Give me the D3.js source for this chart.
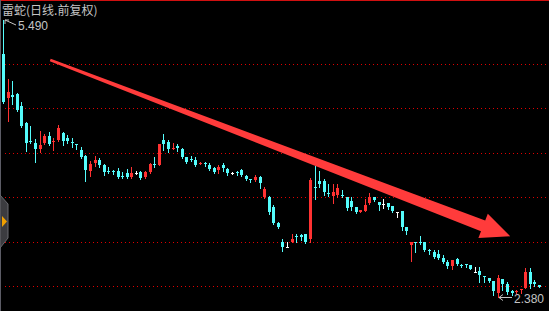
<!DOCTYPE html>
<html>
<head>
<meta charset="utf-8">
<script src="https://cdn.jsdelivr.net/npm/d3@7"></script>
<style>
  html, body { margin: 0; padding: 0; background: #000; }
  svg { display: block; }
</style>
</head>
<body>
<svg id="chart"></svg>
<script>
/** daily candles (oldest first) */
var opens = [
  5.11, 4.62, 4.65, 4.66, 4.53, 4.34, 4.13, 4.11, 4.04, 4.11,
  4.19, 4.12, 4.14, 4.22, 4.17, 4.12, 4.10, 4.03, 3.96, 3.80,
  3.89, 3.92, 3.86, 3.80, 3.795, 3.80, 3.74, 3.77, 3.73, 3.77,
  3.78, 3.73, 3.78, 3.87, 3.86, 4.14, 4.12, 4.04, 4.08, 4.04,
  3.95, 3.925, 3.92, 3.875, 3.885, 3.86, 3.83, 3.81, 3.86, 3.82,
  3.77, 3.785, 3.81, 3.74, 3.70, 3.69, 3.73, 3.50, 3.50, 3.39,
  3.21, 3.00, 2.94, 3.00, 3.06, 3.075, 3.08, 3.03, 3.62, 3.68,
  3.68, 3.55, 3.51, 3.525, 3.53, 3.50, 3.46, 3.39, 3.335, 3.345,
  3.435, 3.50, 3.45, 3.42, 3.435, 3.40, 3.335, 3.345, 3.165, 2.96,
  2.995, 2.99, 3.00, 2.90, 2.88, 2.86, 2.815, 2.77, 2.725, 2.80,
  2.74, 2.75, 2.74, 2.66, 2.67, 2.61, 2.59, 2.555, 2.42, 2.58,
  2.52, 2.445, 2.43, 2.46, 2.48, 2.66, 2.545, 2.51
];
var highs = [
  5.49, 4.83, 4.81, 4.67, 4.57, 4.35, 4.30, 4.16, 4.25, 4.21,
  4.23, 4.17, 4.31, 4.23, 4.20, 4.17, 4.10, 4.07, 3.97, 3.91,
  3.96, 3.94, 3.87, 3.84, 3.81, 3.83, 3.78, 3.82, 3.84, 3.79,
  3.79, 3.79, 3.88, 3.95, 4.10, 4.21, 4.14, 4.11, 4.10, 4.05,
  3.95, 3.96, 3.95, 3.90, 3.90, 3.89, 3.84, 3.86, 3.88, 3.83,
  3.78, 3.80, 3.82, 3.75, 3.71, 3.75, 3.74, 3.61, 3.51, 3.41,
  3.22, 3.03, 3.00, 3.09, 3.09, 3.08, 3.08, 3.72, 3.85, 3.80,
  3.70, 3.65, 3.65, 3.65, 3.58, 3.50, 3.50, 3.39, 3.36, 3.48,
  3.55, 3.50, 3.45, 3.48, 3.44, 3.40, 3.335, 3.345, 3.17, 3.00,
  3.00, 3.065, 3.00, 2.92, 2.905, 2.905, 2.85, 2.79, 2.79, 2.815,
  2.75, 2.75, 2.74, 2.715, 2.715, 2.61, 2.59, 2.56, 2.625, 2.58,
  2.545, 2.45, 2.455, 2.47, 2.70, 2.70, 2.565, 2.51
];
var lows = [
  4.56, 4.36, 4.55, 4.47, 4.29, 4.02, 4.11, 3.90, 4.01, 4.10,
  4.09, 4.03, 4.13, 4.09, 4.11, 4.07, 4.04, 3.94, 3.68, 3.74,
  3.85, 3.84, 3.75, 3.77, 3.76, 3.72, 3.72, 3.72, 3.72, 3.76,
  3.71, 3.72, 3.77, 3.84, 3.86, 4.03, 4.01, 4.04, 4.02, 3.94,
  3.885, 3.91, 3.85, 3.87, 3.85, 3.81, 3.77, 3.77, 3.80, 3.75,
  3.76, 3.75, 3.74, 3.69, 3.67, 3.68, 3.60, 3.49, 3.31, 3.20,
  3.15, 2.89, 2.94, 3.00, 3.00, 3.02, 2.98, 3.00, 3.48, 3.615,
  3.525, 3.51, 3.435, 3.50, 3.50, 3.36, 3.36, 3.32, 3.33, 3.34,
  3.42, 3.455, 3.36, 3.38, 3.37, 3.33, 3.28, 3.13, 3.085, 2.78,
  2.88, 2.975, 2.89, 2.86, 2.815, 2.80, 2.76, 2.70, 2.69, 2.74,
  2.715, 2.715, 2.69, 2.66, 2.545, 2.545, 2.545, 2.40, 2.38, 2.455,
  2.41, 2.40, 2.42, 2.42, 2.48, 2.48, 2.50, 2.49
];
var closes = [
  4.57, 4.68, 4.63, 4.48, 4.30, 4.11, 4.12, 4.04, 4.09, 4.19,
  4.10, 4.13, 4.28, 4.13, 4.13, 4.11, 4.09, 3.95, 3.81, 3.87,
  3.92, 3.86, 3.78, 3.79, 3.785, 3.73, 3.73, 3.73, 3.77, 3.77,
  3.72, 3.78, 3.87, 3.86, 4.10, 4.10, 4.04, 4.055, 4.05, 3.95,
  3.90, 3.915, 3.86, 3.885, 3.875, 3.82, 3.78, 3.84, 3.83, 3.77,
  3.77, 3.775, 3.75, 3.71, 3.69, 3.73, 3.66, 3.59, 3.33, 3.21,
  3.165, 2.94, 2.94, 3.03, 3.05, 3.05, 3.00, 3.69, 3.61, 3.65,
  3.56, 3.54, 3.56, 3.60, 3.52, 3.38, 3.39, 3.33, 3.355, 3.41,
  3.50, 3.47, 3.41, 3.42, 3.39, 3.345, 3.335, 3.165, 3.12, 3.00,
  2.985, 2.98, 2.905, 2.89, 2.83, 2.815, 2.77, 2.725, 2.79, 2.75,
  2.73, 2.74, 2.69, 2.66, 2.625, 2.60, 2.555, 2.445, 2.59, 2.52,
  2.435, 2.42, 2.44, 2.47, 2.66, 2.525, 2.52, 2.49
];

var gridPrices = [5.0, 4.5, 4.0, 3.5, 3.0, 2.5];
var titleText = "雷蛇(日线.前复权)";
var highMark = { index: 0, price: 5.49, label: "5.490" };
var lowMark = { index: 108, price: 2.38, label: "2.380" };
// trend arrow drawn on the chart, in candle index / price units
var trendArrow = { from: { index: 10.2, price: 5.045 }, to: { index: 110.6, price: 3.06 } };

var svgWidth = 549, svgHeight = 311;
var UP = "#ff3232", DOWN = "#54fcfc", FLAT = "#ffffff", LABEL = "#c4c4c4";

var candles = opens.map(function(o, i) {
    return { i: i, open: o, high: highs[i], low: lows[i], close: closes[i] };
});

drawChart(candles);

function drawChart(data) {
    var svg = d3.select("#chart")
        .attr("width", svgWidth)
        .attr("height", svgHeight)
        .style("background", "#000");

    var x = d3.scaleLinear()
        .domain([0, data.length - 1])
        .range([3.5, 539.5]);

    var y = d3.scaleLinear()
        .domain([2.5, 5.0])
        .range([286, 64]);

    // frame: red top rule and grey left edge
    svg.append("line")
        .attr("x1", 0).attr("x2", svgWidth)
        .attr("y1", 0.5).attr("y2", 0.5)
        .attr("stroke", "#d01010");
    svg.append("line")
        .attr("x1", 0.5).attr("x2", 0.5)
        .attr("y1", 0).attr("y2", svgHeight)
        .attr("stroke", "#5c5c66");

    // dotted price grid
    svg.append("g").selectAll("line")
        .data(gridPrices)
        .enter().append("line")
        .attr("x1", 5).attr("x2", svgWidth)
        .attr("y1", function(d) { return Math.round(y(d)) + 0.5; })
        .attr("y2", function(d) { return Math.round(y(d)) + 0.5; })
        .attr("stroke", "#e00000")
        .attr("stroke-dasharray", "1,3");

    function colour(d) {
        if (d.close > d.open) return UP;
        if (d.close < d.open) return DOWN;
        return FLAT;
    }
    function left(d) { return Math.round(x(d.i) - 1.5); }

    var g = svg.append("g");
    var c = g.selectAll("g.candle")
        .data(data)
        .enter().append("g")
        .attr("class", "candle");

    // wicks
    c.append("line")
        .attr("x1", function(d) { return left(d) + 1.5; })
        .attr("x2", function(d) { return left(d) + 1.5; })
        .attr("y1", function(d) { return Math.round(y(d.high)); })
        .attr("y2", function(d) { return Math.round(y(d.low)) + 1; })
        .attr("stroke", colour)
        .attr("stroke-width", 1);

    // bodies (at least one pixel tall so dojis show as a cross)
    c.append("rect")
        .attr("x", left)
        .attr("width", 3)
        .attr("y", function(d) { return Math.round(y(Math.max(d.open, d.close))); })
        .attr("height", function(d) {
            var top = Math.round(y(Math.max(d.open, d.close)));
            var bot = Math.round(y(Math.min(d.open, d.close)));
            return Math.max(1, bot - top);
        })
        .attr("fill", colour);

    // trend arrow
    var s = [x(trendArrow.from.index), y(trendArrow.from.price)];
    var t = [x(trendArrow.to.index), y(trendArrow.to.price)];
    var len = Math.hypot(t[0] - s[0], t[1] - s[1]);
    var ux = (t[0] - s[0]) / len, uy = (t[1] - s[1]) / len;
    var nx = -uy, ny = ux;
    var headLen = 29, headHalf = 13, tail = 1.3, neck = 5.8;
    var b = [t[0] - ux * headLen, t[1] - uy * headLen];
    var pts = [
        [s[0] + nx * tail, s[1] + ny * tail],
        [b[0] + nx * neck, b[1] + ny * neck],
        [b[0] + nx * headHalf, b[1] + ny * headHalf],
        t,
        [b[0] - nx * headHalf, b[1] - ny * headHalf],
        [b[0] - nx * neck, b[1] - ny * neck],
        [s[0] - nx * tail, s[1] - ny * tail]
    ];
    svg.append("path")
        .attr("d", "M" + pts.map(function(p) { return p[0].toFixed(1) + "," + p[1].toFixed(1); }).join("L") + "Z")
        .attr("fill", "#ff3b3b");

    // title
    svg.append("text")
        .attr("x", 2)
        .attr("y", 15)
        .attr("fill", LABEL)
        .attr("font-family", "'Noto Sans CJK SC', sans-serif")
        .attr("font-size", "12px")
        .text(titleText);

    // highest price marker
    var hx = Math.round(x(highMark.index)) + 1, hy = Math.round(y(highMark.price));
    svg.append("path")
        .attr("d", "M" + (hx + 11) + "," + (hy + 5) + "L" + hx + "," + hy +
                   "M" + hx + "," + hy + "L" + (hx + 4) + "," + hy +
                   "M" + hx + "," + hy + "L" + hx + "," + (hy + 4))
        .attr("fill", "none")
        .attr("stroke", LABEL)
        .attr("stroke-width", 1);
    svg.append("text")
        .attr("x", hx + 13)
        .attr("y", hy + 10)
        .attr("fill", LABEL)
        .attr("font-family", "'Liberation Sans', Arial, sans-serif")
        .attr("font-size", "12px")
        .text(highMark.label);

    // lowest price marker
    var lx = Math.round(x(lowMark.index)) + 1, ly = Math.round(y(lowMark.price)) + 0.5;
    svg.append("path")
        .attr("d", "M" + (lx + 13) + "," + ly + "L" + lx + "," + ly +
                   "M" + lx + "," + ly + "L" + (lx + 4) + "," + (ly - 3) +
                   "M" + lx + "," + ly + "L" + (lx + 4) + "," + (ly + 3))
        .attr("fill", "none")
        .attr("stroke", LABEL)
        .attr("stroke-width", 1);
    svg.append("text")
        .attr("x", lx + 15)
        .attr("y", ly + 5.5)
        .attr("fill", LABEL)
        .attr("font-family", "'Liberation Sans', Arial, sans-serif")
        .attr("font-size", "12px")
        .text(lowMark.label);

    // collapsed side-panel tab on the left edge
    svg.append("path")
        .attr("d", "M0,195L8,204L8,238L0,248Z")
        .attr("fill", "#3c3c40")
        .attr("stroke", "#6a6a70")
        .attr("stroke-width", 1);
    svg.append("path")
        .attr("d", "M2,216L7,221.5L2,227Z")
        .attr("fill", "#f0a000");
}
</script>
</body>
</html>
